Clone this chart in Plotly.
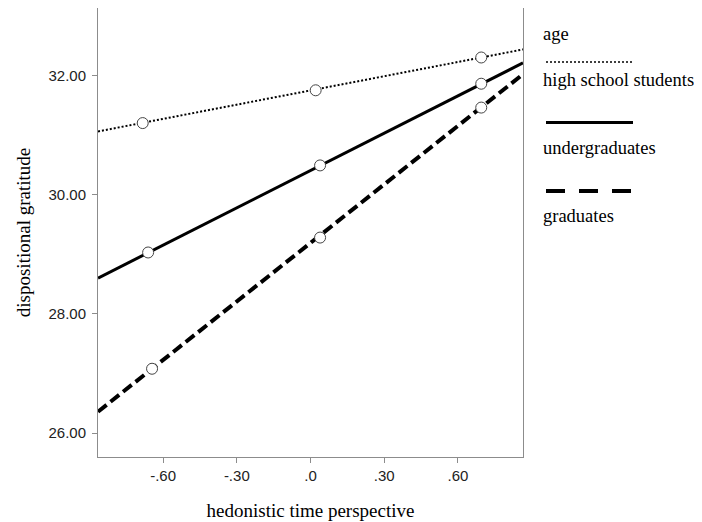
import plotly.graph_objects as go

# ---- data ----
groups = ["high school students", "undergraduates", "graduates"]
point_x = {
    "high school students": [-0.683, 0.021, 0.695],
    "undergraduates": [-0.661, 0.039, 0.695],
    "graduates": [-0.645, 0.039, 0.695],
}
point_y = {
    "high school students": [31.20, 31.75, 32.30],
    "undergraduates": [29.03, 30.49, 31.86],
    "graduates": [27.08, 29.28, 31.46],
}
line_x = [-0.865, 0.865]
line_y = {
    "high school students": [31.06, 32.435],
    "undergraduates": [28.60, 32.21],
    "graduates": [26.36, 32.02],
}
x_ticks = [-0.6, -0.3, 0.0, 0.3, 0.6]
x_tick_labels = ["-.60", "-.30", ".0", ".30", ".60"]
y_ticks = [26, 28, 30, 32]
y_tick_labels = ["26.00", "28.00", "30.00", "32.00"]
legend_title = "age"

styles = {
    "high school students": dict(width=2, dash="2px,2px"),
    "undergraduates": dict(width=3, dash="solid"),
    "graduates": dict(width=4, dash="11px,5px"),
}
legend_styles = {
    "high school students": dict(width=1.6, dash="2px,2px"),
    "undergraduates": dict(width=3, dash="solid"),
    "graduates": dict(width=4, dash="19px,14px"),
}

fig = go.Figure()
for g in groups:
    fig.add_trace(go.Scatter(
        x=line_x, y=line_y[g], mode="lines",
        line=dict(color="black", **styles[g]),
        showlegend=False, hoverinfo="skip"))
for g in groups:
    fig.add_trace(go.Scatter(
        x=point_x[g], y=point_y[g], mode="markers",
        marker=dict(symbol="circle", size=11, color="white",
                    line=dict(color="#444444", width=1)),
        showlegend=False, name=g))

OFF = 8  # page body margin
W, H = 702 - OFF, 522 - OFF
L, R, T, B = 98 - OFF, 523 - OFF, 8 - OFF, 457 - OFF
def px(xs):
    return (xs - OFF - L) / (R - L)
def py(ys):
    return (B - (ys - OFF)) / (B - T)

serif = "Liberation Serif"
annotations = []
shapes = []
annotations.append(dict(x=px(541), y=py(34), xref="paper", yref="paper",
                        text=legend_title, showarrow=False, xanchor="left",
                        yanchor="middle", font=dict(family=serif, size=18.5, color="black")))
leg_line_y = [62, 122.5, 191]
leg_text_y = [80, 148, 216]
for g, ly, ty in zip(groups, leg_line_y, leg_text_y):
    shapes.append(dict(type="line", xref="paper", yref="paper",
                       x0=px(546), x1=px(633), y0=py(ly), y1=py(ly),
                       line=dict(color="black", **legend_styles[g])))
    annotations.append(dict(x=px(541), y=py(ty), xref="paper", yref="paper",
                            text=g, showarrow=False, xanchor="left",
                            yanchor="middle", font=dict(family=serif, size=18.5, color="black")))

axis_common = dict(showgrid=False, zeroline=False, showline=True, mirror=True,
                   linecolor="#8c8c8c", linewidth=1, ticks="outside",
                   ticklen=5, tickcolor="#8c8c8c",
                   tickfont=dict(family="Liberation Sans", size=15, color="#222222"))

fig.update_layout(
    width=W, height=H,
    margin=dict(l=L, r=W - R, t=T, b=H - B),
    paper_bgcolor="white", plot_bgcolor="white",
    xaxis=dict(range=[-0.865, 0.865], tickvals=x_ticks, ticktext=x_tick_labels,
               title=dict(text="hedonistic time perspective", standoff=20,
                          font=dict(family=serif, size=19, color="black")),
               **axis_common),
    yaxis=dict(range=[25.6, 33.13], tickvals=y_ticks, ticktext=y_tick_labels,
               ticklabelstandoff=3,
               title=dict(text="dispositional gratitude", standoff=12,
                          font=dict(family=serif, size=19, color="black")),
               **axis_common),
    annotations=annotations, shapes=shapes,
)

fig.write_html("out.html")
